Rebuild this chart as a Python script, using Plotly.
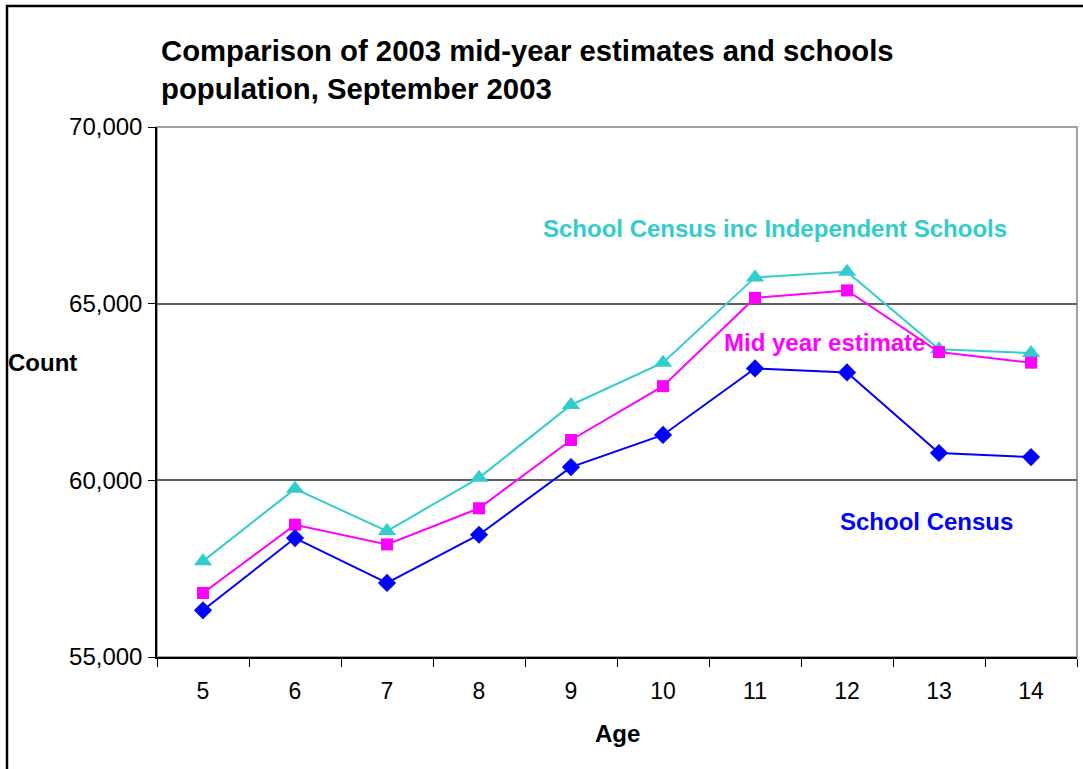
import plotly.graph_objects as go

# Ages (x categories)
ages = ["5", "6", "7", "8", "9", "10", "11", "12", "13", "14"]

# Population counts by single year of age
school_census = [56321, 58366, 57097, 58460, 60375, 61284, 63168, 63054, 60773, 60659]
mid_year_estimate = [56812, 58744, 58187, 59210, 61142, 62665, 65165, 65375, 63631, 63330]
school_census_inc_indep = [57713, 59759, 58565, 60071, 62133, 63330, 65744, 65903, 63707, 63602]

y_ticks = [55000, 60000, 65000, 70000]
y_tick_text = ["55,000", "60,000", "65,000", "70,000"]

FONT = "Liberation Sans, Arial, sans-serif"
BLUE = "#0000FF"
MAGENTA = "#FF00FF"
CYAN = "#33CCCC"

fig = go.Figure()

fig.add_trace(go.Scatter(
    x=ages, y=school_census_inc_indep, mode="lines+markers",
    name="School Census inc Independent Schools",
    line=dict(color=CYAN, width=2),
    marker=dict(symbol="triangle-up", size=16, color=CYAN),
))
fig.add_trace(go.Scatter(
    x=ages, y=mid_year_estimate, mode="lines+markers",
    name="Mid year estimate",
    line=dict(color=MAGENTA, width=2),
    marker=dict(symbol="square", size=12, color=MAGENTA),
))
fig.add_trace(go.Scatter(
    x=ages, y=school_census, mode="lines+markers",
    name="School Census",
    line=dict(color=BLUE, width=2),
    marker=dict(symbol="diamond", size=14, color=BLUE),
))

# Series labels placed next to their lines
fig.add_annotation(x=6.217, y=67116, xref="x", yref="y",
                   text="<b>School Census inc Independent Schools</b>",
                   showarrow=False, font=dict(family=FONT, size=24, color=CYAN))
fig.add_annotation(x=6.755, y=63906, xref="x", yref="y",
                   text="<b>Mid year estimate</b>",
                   showarrow=False, font=dict(family=FONT, size=24, color=MAGENTA))
fig.add_annotation(x=7.859, y=58849, xref="x", yref="y",
                   text="<b>School Census</b>",
                   showarrow=False, font=dict(family=FONT, size=24, color=BLUE))

# Title
fig.add_annotation(x=0.002, y=1 + (127 - 32) / 530, xref="paper", yref="paper",
                   xanchor="left", yanchor="top", align="left",
                   text="<b>Comparison of 2003 mid-year estimates and schools<br>population, September 2003</b>",
                   showarrow=False, font=dict(family=FONT, size=29.3, color="black"))

# Axis titles
fig.add_annotation(x=(42 - 157) / 920, y=63338, xref="paper", yref="y",
                   xanchor="center", yanchor="middle",
                   text="<b>Count</b>", showarrow=False,
                   font=dict(family=FONT, size=24, color="black"))
fig.add_annotation(x=0.5, y=(657 - 733) / 530, xref="paper", yref="paper",
                   xanchor="center", yanchor="middle",
                   text="<b>Age</b>", showarrow=False,
                   font=dict(family=FONT, size=24, color="black"))

# Plot frame (grey) and outer chart border (black)
fig.add_shape(type="rect", xref="paper", yref="paper", x0=0, y0=0, x1=1, y1=1,
              line=dict(color="#A0A0A0", width=2), layer="below")
fig.add_shape(type="rect", xref="paper", yref="paper",
              x0=(7 - 157) / 920, y0=-0.5, x1=1.2, y1=1 + (127 - 6) / 530,
              line=dict(color="black", width=2.5))

fig.update_layout(
    width=1083, height=769,
    margin=dict(l=157, r=6, t=127, b=112),
    paper_bgcolor="white", plot_bgcolor="white",
    showlegend=False,
    font=dict(family=FONT, size=24, color="black"),
    xaxis=dict(
        type="category", range=[-0.5, 9.5],
        showgrid=False, showline=True, linecolor="black", linewidth=1.5,
        ticks="outside", tickson="boundaries", ticklen=8, tickcolor="black",
        ticklabelstandoff=13,
        tickfont=dict(family=FONT, size=23, color="black"),
    ),
    yaxis=dict(
        range=[55000, 70000], tickvals=y_ticks, ticktext=y_tick_text,
        showgrid=True, gridcolor="#606060", gridwidth=1.5,
        showline=True, linecolor="black", linewidth=1.5,
        ticks="outside", ticklen=7, tickcolor="black",
        ticklabelstandoff=1,
        tickfont=dict(family=FONT, size=24, color="black"),
        zeroline=False,
    ),
)

fig.write_html("out.html")
